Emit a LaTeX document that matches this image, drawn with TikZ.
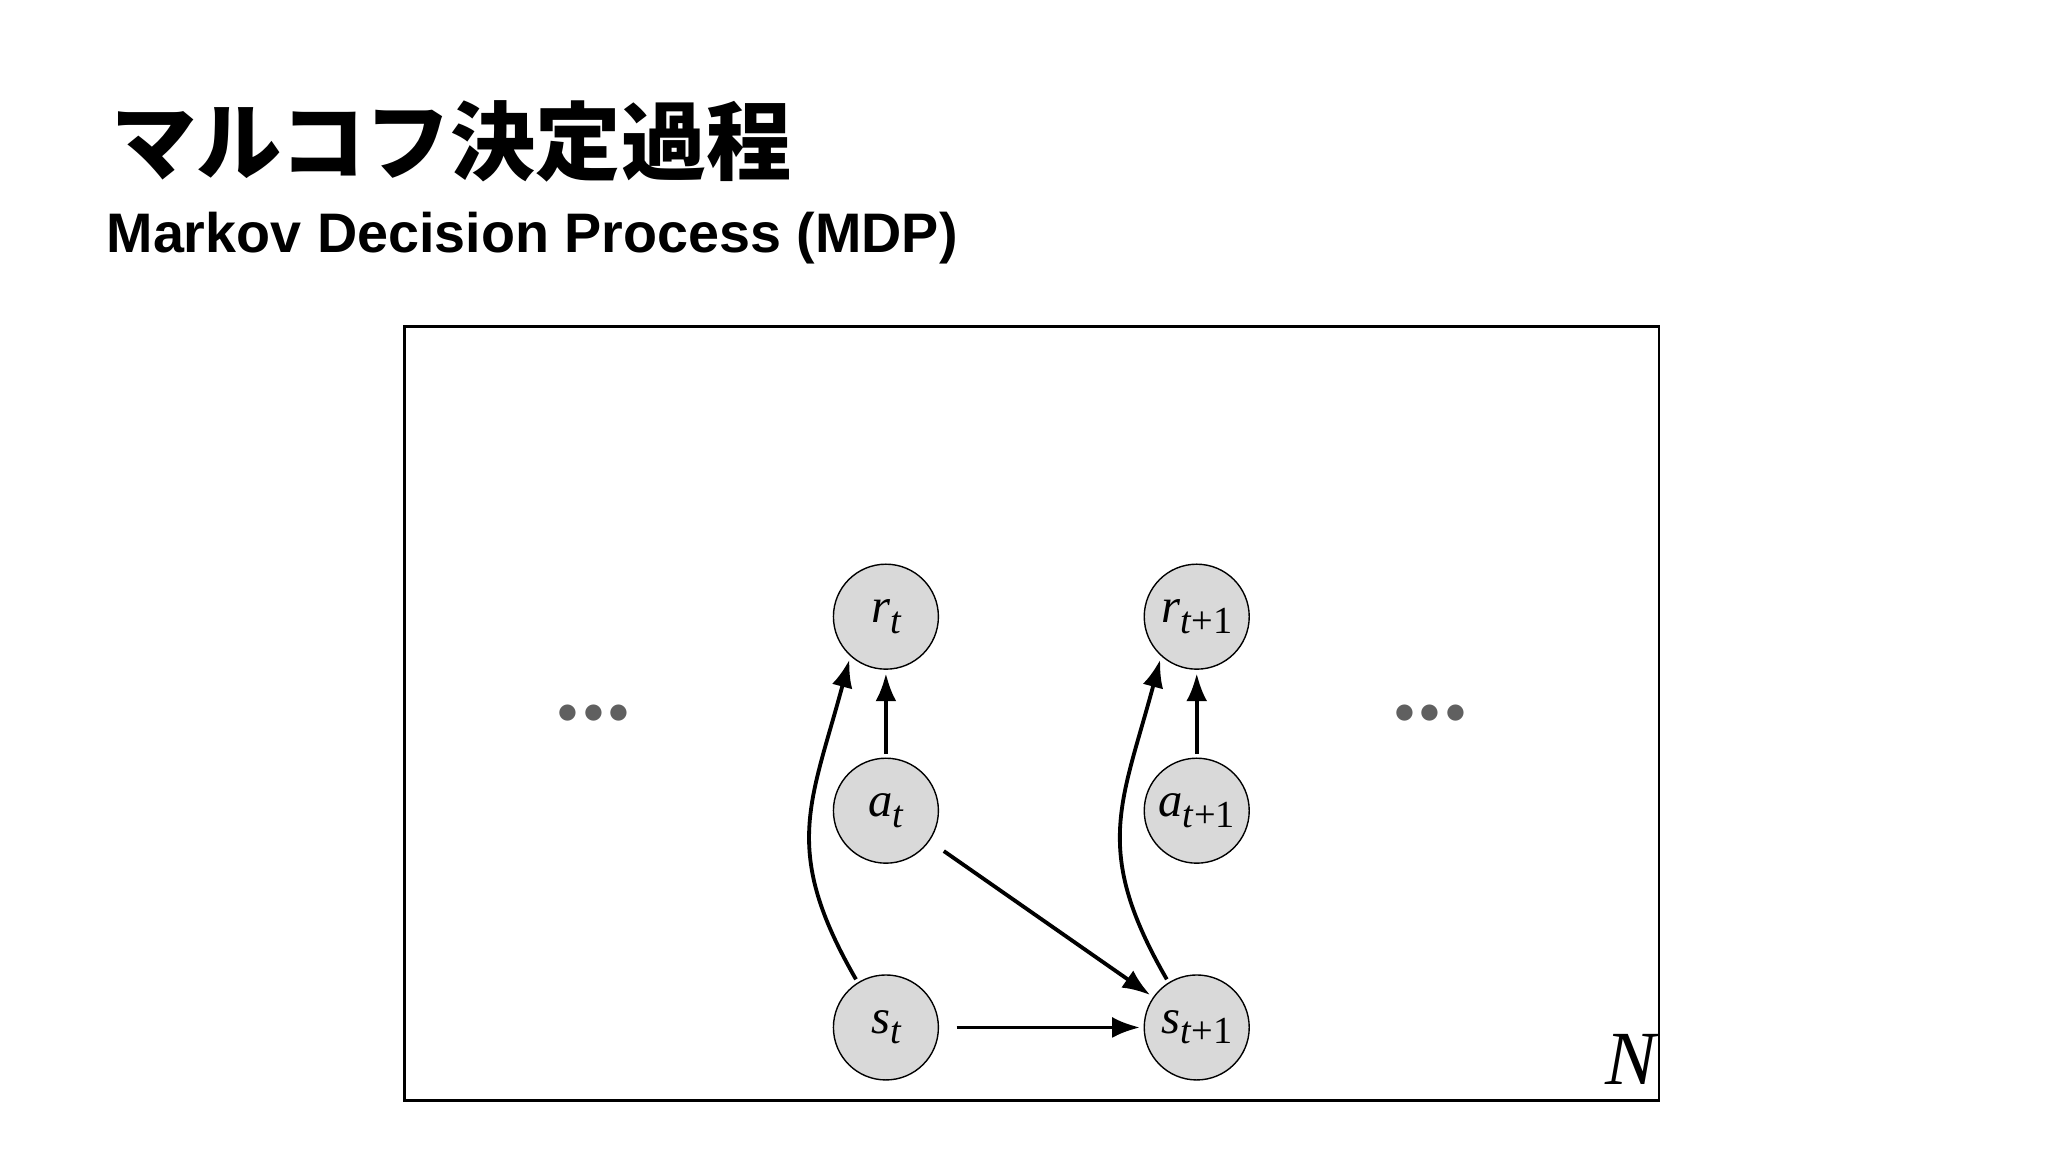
\documentclass[tikz,border=0pt]{standalone}
\usepackage{fontspec}
\setmainfont{Liberation Serif}
\newfontfamily\cjk{Noto Sans CJK JP}
\newfontfamily\sub{Liberation Sans}
\usetikzlibrary{arrows.meta}
\newcommand{\lab}[2]{#1\raisebox{-0.45ex}{\fontsize{11}{11}\selectfont #2}}
\begin{document}
\begin{tikzpicture}[x=0.01cm,y=-0.01cm,
 st/.style={circle,draw,fill=gray!30,minimum size=1.06cm,inner sep=0pt,font=\fontsize{14}{14}\selectfont\itshape},
 ar/.style={-{Latex[length=8pt,width=6pt]},line width=1.1pt,shorten >=1pt,shorten <=1pt}]
\useasboundingbox (0,0) rectangle (2069,1164);
\node[anchor=west,font=\cjk\bfseries\fontsize{24.5}{24.5}\selectfont] (t) at (100,143) {マルコフ決定過程};
\node[anchor=west,font=\sub\bfseries\fontsize{16}{16}\selectfont,inner sep=0pt] (s) at (107,241) {Markov Decision Process (MDP)};
\draw[line width=0.8pt] (409,330) rectangle (1676,1112);
\node[st] (rt) at (895,623) {\lab{r}{t}};
\node[st] (rt1) at (1209,623) {\lab{r}{t\textup{+1}}};
\node[st] (at) at (895,819) {\lab{a}{t}};
\node[st] (at1) at (1209,819) {\lab{a}{t\textup{+1}}};
\node[st] (s0) at (895,1038) {\lab{s}{t}};
\node[st] (s1) at (1209,1038) {\lab{s}{t\textup{+1}}};
\draw[ar] (at) -- (rt);
\draw[ar] (at1) -- (rt1);
\draw[ar,shorten <=5pt] (s0) -- (s1);
\draw[ar,shorten <=5pt] (at) -- (s1);
\draw[ar] (s0.122) to[out=120,in=-105,looseness=1.2] (rt.228);
\draw[ar] (s1.122) to[out=120,in=-105,looseness=1.2] (rt1.228);
\node[font=\fontsize{13}{13}\selectfont,text=gray!75!black] (d1) at (600,722) {$\bullet\mkern-2mu\bullet\mkern-2mu\bullet$};
\node[font=\fontsize{13}{13}\selectfont,text=gray!75!black] (d2) at (1445,722) {$\bullet\mkern-2mu\bullet\mkern-2mu\bullet$};
\node[font=\fontsize{22}{22}\selectfont\itshape] (N) at (1648,1070) {N};
\end{tikzpicture}
\end{document}
